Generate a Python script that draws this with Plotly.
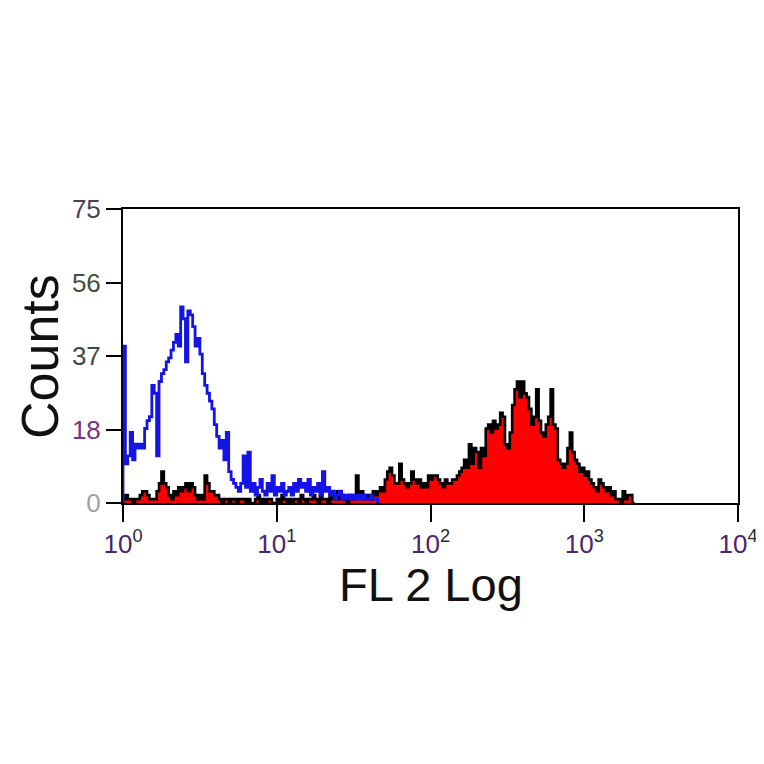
import plotly.graph_objects as go

CHANNELS_PER_DECADE = 64  # 256 channels over 4 decades

# Isotype control histogram (blue outline), counts per channel starting at channel 0
blue_counts = [
    40, 10, 12, 18, 11, 15, 14, 15, 14, 19,
    21, 22, 30, 28, 12, 31, 33, 34, 36, 37,
    39, 41, 43, 40, 50, 47, 36, 49, 48, 45,
    40, 42, 38, 33, 30, 28, 26, 24, 20, 17,
    14, 16, 11, 18, 8, 6, 5, 4, 3, 5,
    12, 4, 13, 3, 5, 2, 4, 6, 3, 2,
    5, 3, 7, 2, 4, 3, 5, 2, 3, 4,
    2, 5, 3, 6, 4, 5, 3, 6, 2, 4,
    3, 5, 2, 8, 3, 4, 2, 3, 1, 2,
    3, 1, 2, 1, 2, 1, 2, 1, 2, 1,
    2, 1, 1, 2, 1, 1,
]

# Stained sample histogram (red fill, black outline), counts per channel starting at channel 0
red_counts = [
    1, 2, 1, 1, 0, 1, 1,
    2, 3, 3, 2, 1,
    1, 1,
    3, 5, 8, 5, 4,
    2, 1, 3, 2,
    4, 3, 4,
    5, 3, 5, 4,
    2, 1, 2, 1,
    7, 5, 3,
    3, 2, 2,
    1, 0, 1, 1, 0, 1, 1, 0, 1, 1,
    1, 0, 1, 0, 0, 1, 2, 0, 1, 0,
    1, 1, 0, 0, 1, 0, 2, 1, 0, 1,
    0, 1, 1, 0, 2, 1, 0, 1, 1, 2,
    1, 0, 2, 1, 1, 0, 2, 1, 1, 3,
    1, 2, 1, 0, 2, 1, 2,
    7,
    2, 3, 2,
    1, 2, 1, 3, 2,
    3, 4, 3,
    6, 8, 9, 7,
    5, 5,
    10,
    6, 5, 4, 5,
    8,
    6, 5, 6, 4, 5,
    4,
    7, 6, 7, 7, 6,
    5, 4, 6, 5, 5,
    6, 6, 7,
    8, 9, 11,
    9, 15, 10, 14, 13, 9, 14, 12, 19, 20,
    18, 21, 19, 20, 23, 22, 15, 14, 18, 25,
    29, 31, 27, 31, 28, 27, 24, 20, 22, 29,
    21, 18, 17, 20, 22, 29, 20, 19, 11, 10,
    9, 10, 14, 18, 13, 11, 10, 8, 9, 7,
    8, 6, 5, 4, 3, 6, 5, 4, 3, 4,
    2, 3, 1, 1, 0, 3, 1, 2, 2, 0,
]

x_tick_vals = [1, 10, 100, 1000, 10000]
x_tick_exponents = ["0", "1", "2", "3", "4"]
y_tick_vals = [0, 18.75, 37.5, 56.25, 75]
y_tick_labels = ["0", "18", "37", "56", "75"]
y_tick_colors = ["#a0a0a0", "#7a3482", "#3c4a44", "#3f5041", "#4a4258"]


def step_xy(counts):
    xs = [10 ** 0]
    ys = [0]
    for i, c in enumerate(counts):
        xs.append(10 ** (i / CHANNELS_PER_DECADE))
        ys.append(c)
    xs.append(10 ** (len(counts) / CHANNELS_PER_DECADE))
    ys.append(0)
    return xs, ys


rx, ry = step_xy(red_counts)
bx, by = step_xy(blue_counts)

fig = go.Figure()
fig.add_trace(go.Scatter(
    x=rx, y=ry, mode="lines", line=dict(shape="hv", color="black", width=2.6),
    fill="tozeroy", fillcolor="#ff0000", showlegend=False, hoverinfo="skip"))
fig.add_trace(go.Scatter(
    x=bx, y=by, mode="lines", line=dict(shape="hv", color="#1414e6", width=2.8),
    showlegend=False, hoverinfo="skip"))

x_tick_text = [
    f"<span style='color:#4b2470'>10</span><sup><span style='color:#2a2a2a'>{e}</span></sup>"
    for e in x_tick_exponents
]
y_tick_text = [f"<span style='color:{c}'>{t}</span>" for t, c in zip(y_tick_labels, y_tick_colors)]

font_family = "Liberation Sans, Arial, sans-serif"

# page body keeps an 8px default margin, so the figure is 756 px and margins offset by 8
fig.update_layout(
    width=756, height=756,
    margin=dict(l=115, r=26, t=201, b=261, autoexpand=False),
    paper_bgcolor="white", plot_bgcolor="white",
    font=dict(family=font_family, color="black"),
    xaxis=dict(
        type="log", range=[0, 4], showgrid=False, zeroline=False, automargin=False,
        showline=True, linecolor="black", linewidth=2, mirror=True,
        ticks="outside", ticklen=17, tickwidth=2, tickcolor="black",
        tickvals=x_tick_vals, ticktext=x_tick_text,
        tickfont=dict(size=26, family=font_family),
    ),
    yaxis=dict(
        range=[0, 75], showgrid=False, zeroline=False, automargin=False,
        showline=True, linecolor="black", linewidth=2, mirror=True,
        ticks="outside", ticklen=15, tickwidth=2, tickcolor="black",
        tickvals=y_tick_vals, ticktext=y_tick_text,
        tickfont=dict(size=26, family=font_family),
    ),
    annotations=[
        dict(text="FL 2 Log", xref="paper", yref="paper", x=0.5, y=-0.18,
             xanchor="center", yanchor="top", showarrow=False,
             font=dict(size=47, family=font_family, color="#111111")),
        dict(text="Counts", xref="paper", yref="paper", x=-0.135, y=0.5,
             xanchor="center", yanchor="middle", textangle=-90, showarrow=False,
             font=dict(size=52, family=font_family, color="#111111")),
    ],
)

fig.write_html("out.html")
